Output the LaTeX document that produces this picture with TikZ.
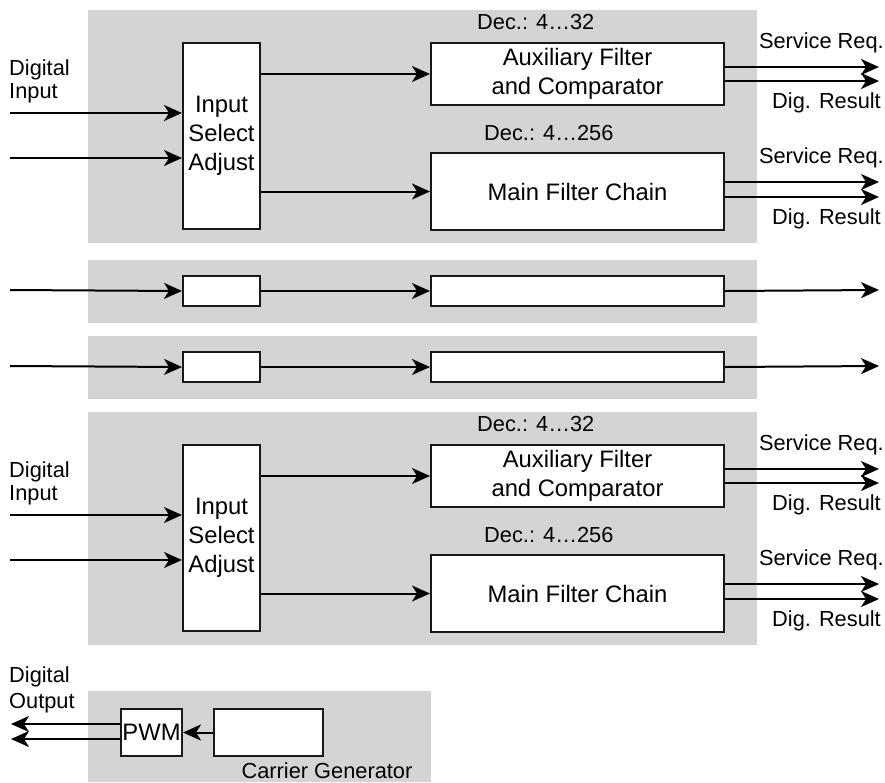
\documentclass[tikz,border=0pt]{standalone}
\usepackage{fontspec}
\setmainfont{Liberation Sans}
\usetikzlibrary{arrows.meta}
\definecolor{panelgray}{RGB}{212,212,211}
\tikzset{
  panel/.style={fill=panelgray},
  blk/.style={draw=black!90, fill=white, line width=2pt, inner sep=0pt, anchor=north west, align=center,
    font=\fontsize{23.8}{29}\selectfont},
  arr/.style={line width=2pt, -{Stealth[length=18pt,width=16pt,inset=5pt]}},
  lbl/.style={inner sep=0pt, font=\fontsize{21.8}{23}\selectfont},
}
\newcommand\BigPanel[2]{%
\begin{scope}[yshift=#2]
  \fill[panel] (88,10) rectangle (757,243);
  \node[blk, minimum width=77pt, minimum height=186pt] (#1isa) at (182,42) {Input\\Select\\Adjust};
  \node[blk, minimum width=293pt, minimum height=62pt] (#1aux) at (430,42) {Auxiliary Filter\\and Comparator};
  \node[blk, minimum width=293pt, minimum height=77pt] (#1main) at (430,152) {Main Filter Chain};
  \node[lbl, anchor=west, align=left] (#1din) at (9,81) {Digital\\Input};
  \node[lbl, anchor=west] (#1deca) at (477,22) {Dec.: 4…32};
  \node[lbl, anchor=west] (#1decm) at (484,133) {Dec.: 4…256};
  \coordinate (#1ia) at (10,113);
  \coordinate (#1ib) at (10,158);
  \draw[arr] (#1ia) -- (#1ia -| #1isa.west);
  \draw[arr] (#1ib) -- (#1ib -| #1isa.west);
  \draw[arr] (#1isa.east |- #1aux.west) -- (#1aux.west);
  \draw[arr] (#1isa.east |- #1main.west) -- (#1main.west);
  \coordinate (#1oa1) at (879,67);
  \coordinate (#1oa2) at (879,81);
  \coordinate (#1om1) at (879,182);
  \coordinate (#1om2) at (879,197);
  \draw[arr] (#1oa1 -| #1aux.east) -- (#1oa1);
  \draw[arr] (#1oa2 -| #1aux.east) -- (#1oa2);
  \draw[arr] (#1om1 -| #1main.east) -- (#1om1);
  \draw[arr] (#1om2 -| #1main.east) -- (#1om2);
  \node[lbl, anchor=east] (#1sra) at (884,43) {Service Req.};
  \node[lbl, anchor=east] (#1dra) at (881,103) {Dig. Result};
  \node[lbl, anchor=east] (#1srm) at (884,158) {Service Req.};
  \node[lbl, anchor=east] (#1drm) at (881,219) {Dig. Result};
\end{scope}}
\newcommand\SmallPanel[2]{%
\begin{scope}[yshift=#2]
  \fill[panel] (88,260) rectangle (757,323);
  \node[blk, minimum width=77pt, minimum height=30pt] (#1s) at (182,275) {};
  \node[blk, minimum width=293pt, minimum height=30pt] (#1l) at (430,275) {};
  \coordinate (#1in) at (10,290);
  \coordinate (#1out) at (879,290);
  \draw[arr] (#1in) -- (#1s.west);
  \draw[arr] (#1s.east) -- (#1l.west);
  \draw[arr] (#1l.east) -- (#1out);
\end{scope}}
\begin{document}
\begin{tikzpicture}[x=1pt, y=-1pt]
  \useasboundingbox (0,0) rectangle (885,782);
  \BigPanel{t}{0pt}
  \SmallPanel{p}{0pt}
  \SmallPanel{q}{-76pt}
  \BigPanel{b}{-402pt}
  % carrier generator panel
  \fill[panel] (88,691) rectangle (431,782);
  \node[blk, minimum width=61pt, minimum height=47pt] (pwm) at (120,708) {PWM};
  \node[blk, minimum width=109pt, minimum height=47pt] (car) at (213,708) {};
  \draw[arr] (car.west |- pwm.east) -- (pwm.east);
  \coordinate (do1) at (11,724);
  \coordinate (do2) at (11,739);
  \draw[arr] (do1 -| pwm.west) -- (do1);
  \draw[arr] (do2 -| pwm.west) -- (do2);
  \node[lbl, anchor=west, align=left, font=\fontsize{21.8}{26}\selectfont] (dout) at (9,690) {Digital\\Output};
  \node[lbl, anchor=base] (cgl) at (327,778) {Carrier Generator};
\end{tikzpicture}
\end{document}
